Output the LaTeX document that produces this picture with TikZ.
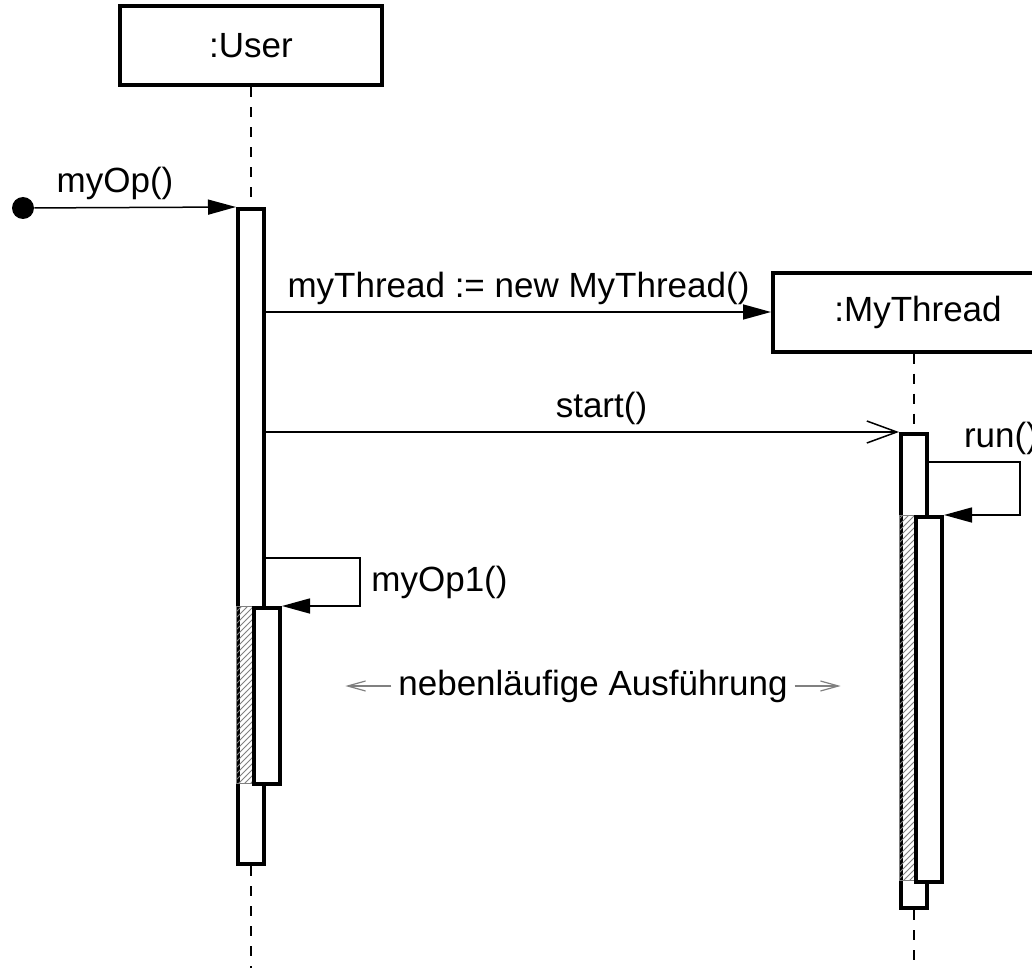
\documentclass[tikz,border=0pt]{standalone}
\usepackage{fontspec}
\setmainfont{Liberation Sans}
\usetikzlibrary{arrows.meta,positioning,patterns}

\begin{document}
\begin{tikzpicture}[
  x=0.5pt, y=-0.5pt,
  font=\fontsize{17.5}{21}\selectfont,
  obj/.style={rectangle, draw, line width=2pt, fill=white, minimum width=131pt, minimum height=39.5pt, align=center},
  act/.style={rectangle, draw, line width=2pt, fill=white, minimum width=13pt, inner sep=0pt, anchor=north},
  hatch/.style={draw=gray, line width=0.3pt, pattern=north east lines, pattern color=gray},
  life/.style={dash pattern=on 5pt off 5pt, line width=0.6pt},
  call/.style={-{Triangle[length=14pt,width=7.5pt]}, line width=0.75pt},
  async/.style={-{Straight Barb[length=15pt,width=11pt]}, line width=0.75pt},
  note/.style={-{Straight Barb[length=9pt,width=5pt]}, gray, line width=0.6pt}
]
\useasboundingbox (0,0) rectangle (1032,968);
\coordinate (bottom) at (0,968);

% objects
\node[obj] (user) at (251,46) {:User};
\node[obj, minimum width=145pt] (thread) at (918,312) {:MyThread};

% activations
\node[act, minimum height=327.5pt] (ua) at (251,207) {};
\draw[hatch] (ua.west |- 0,606) rectangle (254,783);
\node[act, minimum height=88pt] (ub) at (267,606) {};
\node[act, minimum height=237pt] (ta) at (914,432) {};
\draw[hatch] (ta.west |- 0,515) rectangle (916,880);
\node[act, minimum height=182.5pt] (tb) at (929,515) {};

% lifelines
\draw[life] (user.south) -- (ua.north);
\draw[life] (ua.south) -- (ua.south |- bottom);
\draw[life] (thread.south -| ta.north) -- (ta.north);
\draw[life] (ta.south) -- (ta.south |- bottom);

% messages
\node[circle, fill, inner sep=0pt, minimum size=11pt] (init) at (23,208) {};
\draw[call] (init) -- (ua.north west) node[pos=0.40, above] {myOp()};
\draw[call] (thread.west -| ua.east) -- (thread.west) node[midway, above] {myThread := new MyThread()};
\draw[async] (ta.north west -| ua.east) -- (ta.north west) node[pos=0.53, above] {start()};
\draw[call] (ta.north east) ++(0,30) -- ++(91,0) node[above, xshift=-9.5pt] {run()} -- ++(0,53) -- (tb.north east);
\draw[call] (ua.north east) ++(0,351) -- ++(94,0) -- ++(0,48) node[midway, right=2pt] {myOp1()} -- (ub.north east);

% concurrency note
\node (conc) at (593,686) {nebenläufige Ausführung};
\draw[note] (conc.west) -- ++(-46,0);
\draw[note] (conc.east) -- ++(46,0);
\end{tikzpicture}
\end{document}
